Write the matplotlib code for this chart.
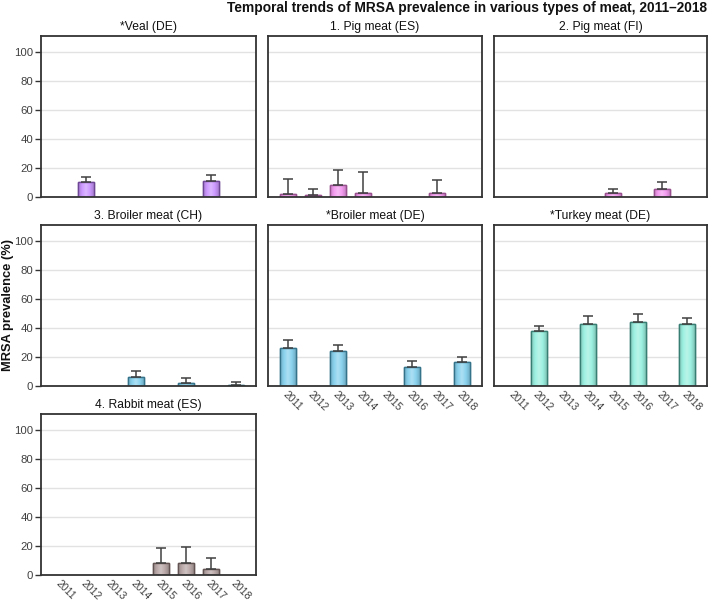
import numpy as np
import matplotlib
matplotlib.use('Agg')
import matplotlib.pyplot as plt
from matplotlib.colors import to_rgb, LinearSegmentedColormap

plt.rcParams['font.family'] = ['Liberation Sans', 'DejaVu Sans']

years = ['2011', '2012', '2013', '2014', '2015', '2016', '2017', '2018']
nan = np.nan

titles = ['*Veal (DE)', '1. Pig meat (ES)', '2. Pig meat (FI)',
          '3. Broiler meat (CH)', '*Broiler meat (DE)', '*Turkey meat (DE)',
          '4. Rabbit meat (ES)']

# prevalence (%) and upper confidence limit (%)
veal_de = [nan, 10.4, nan, nan, nan, nan, 11.3, nan]
veal_de_up = [nan, 13.9, nan, nan, nan, nan, 15.5, nan]
pig_es = [2.3, 1.7, 8.1, 3.0, nan, nan, 3.0, nan]
pig_es_up = [12.7, 5.8, 18.5, 16.9, nan, nan, 11.5, nan]
pig_fi = [nan, nan, nan, nan, 2.8, nan, 5.8, nan]
pig_fi_up = [nan, nan, nan, nan, 5.5, nan, 10.0, nan]
broiler_ch = [nan, nan, nan, 6.3, nan, 2.4, nan, 1.0]
broiler_ch_up = [nan, nan, nan, 10.0, nan, 5.2, nan, 2.9]
broiler_de = [26.3, nan, 24.0, nan, nan, 12.9, nan, 16.4]
broiler_de_up = [31.4, nan, 28.6, nan, nan, 16.9, nan, 20.3]
turkey_de = [nan, 37.6, nan, 42.5, nan, 44.4, nan, 42.7]
turkey_de_up = [nan, 41.3, nan, 48.3, nan, 49.7, nan, 47.1]
rabbit_es = [nan, nan, nan, nan, 8.5, 8.3, 3.9, nan]
rabbit_es_up = [nan, nan, nan, nan, 18.7, 19.6, 11.5, nan]

values = [veal_de, pig_es, pig_fi, broiler_ch, broiler_de, turkey_de, rabbit_es]
uppers = [veal_de_up, pig_es_up, pig_fi_up, broiler_ch_up, broiler_de_up, turkey_de_up, rabbit_es_up]

fills = ['#cc99ff', '#f49cf0', '#f49cf0', '#8ad2ee', '#8ad2ee', '#9cf0e0', '#bba9a9']
edges = ['#6e4896', '#98508e', '#98508e', '#35738a', '#35738a', '#387e73', '#635353']


def shade_cmap(fill):
    f = np.array(to_rgb(fill))
    dark = f * 0.82
    light = f + (1 - f) * 0.3
    return LinearSegmentedColormap.from_list('s', [dark, f, light, f, dark])


W, H = 709, 602
fig = plt.figure(figsize=(W / 100, H / 100), dpi=100)

col_left = [41, 268, 494]
col_w = [215, 214, 213]
row_top = [36, 225, 414]
row_h = 161

axes = []
for k in range(7):
    r, c = divmod(k, 3)
    ax = fig.add_axes([col_left[c] / W, 1 - (row_top[r] + row_h) / H,
                       col_w[c] / W, row_h / H])
    axes.append(ax)

x = np.arange(len(years))
grad = np.linspace(0, 1, 64).reshape(1, -1)
for k, ax in enumerate(axes):
    r, c = divmod(k, 3)
    v = np.array(values[k], dtype=float)
    up = np.array(uppers[k], dtype=float)
    bars = ax.bar(x, v, width=0.64, color=fills[k], edgecolor=edges[k], linewidth=1.0, zorder=3)
    cm = shade_cmap(fills[k])
    for b in bars:
        h = b.get_height()
        if np.isnan(h):
            continue
        x0 = b.get_x()
        im = ax.imshow(grad, cmap=cm, aspect='auto', zorder=3.5,
                       extent=(x0, x0 + b.get_width(), 0, h), interpolation='bilinear')
        im.set_clip_path(b)
        ax.bar(b.get_x() + b.get_width() / 2, h, width=b.get_width(), color='none',
               edgecolor=edges[k], linewidth=1.0, zorder=3.6)
    yerr = np.vstack([np.zeros_like(v), up - v])
    ax.errorbar(x, v, yerr=yerr, fmt='none', ecolor='#404040', elinewidth=1.1,
                capsize=3.6, capthick=1.1, zorder=4)
    ax.set_xlim(-0.8, 7.8)
    ax.set_ylim(0, 111)
    ax.set_yticks([0, 20, 40, 60, 80, 100])
    ax.grid(axis='y', color='#e2e2e2', linewidth=1.0, zorder=0)
    ax.set_axisbelow(True)
    for s in ax.spines.values():
        s.set_color('#333333')
        s.set_linewidth(1.3)
        s.set_zorder(5)
    ax.set_title(titles[k], fontsize=8.7, pad=4, color='#111111')
    ax.set_xticks(x)
    ax.tick_params(axis='x', length=0)
    if c == 0:
        ax.tick_params(axis='y', length=4, width=1.0, color='#333333',
                       labelsize=8.2, labelcolor='#404040', pad=1.5)
    else:
        ax.tick_params(axis='y', length=0, labelleft=False)
    if k in (4, 5, 6):
        ax.set_xticklabels(years, rotation=-45, ha='left', va='top',
                           rotation_mode='anchor', fontsize=7.6, color='#404040')
        ax.tick_params(axis='x', pad=2.5)
    else:
        ax.set_xticklabels([])

fig.text(8 / W, 1 - 305 / H, 'MRSA prevalence (%)', rotation=90, fontsize=9.3,
         fontweight='bold', ha='center', va='center', color='#111111')
fig.text(707 / W, 1 - 8 / H,
         'Temporal trends of MRSA prevalence in various types of meat, 2011\u20132018',
         fontsize=9.9, fontweight='bold', ha='right', va='center', color='#111111')

fig.savefig('out.png', dpi=100)
